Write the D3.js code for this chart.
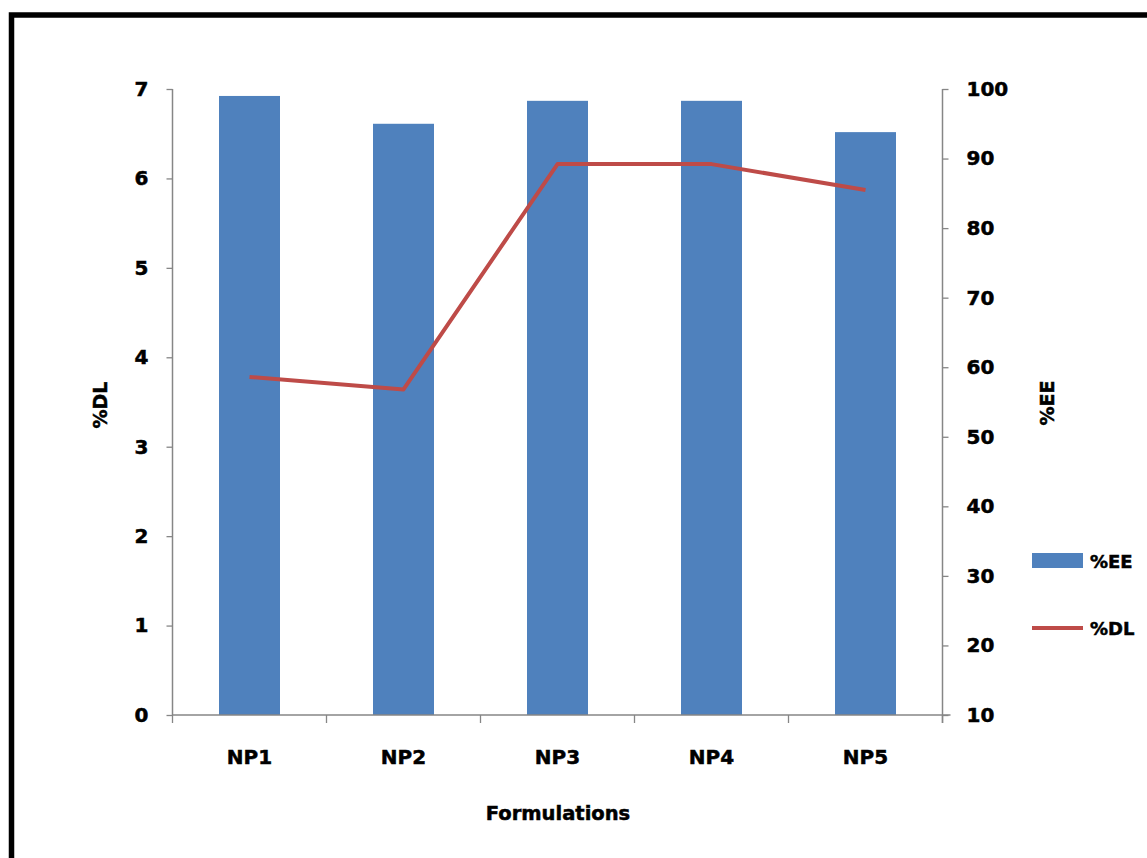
<!DOCTYPE html>
<html>
<head>
<meta charset="utf-8">
<script src="https://cdn.jsdelivr.net/npm/d3@7"></script>
<style>
  html, body { margin: 0; padding: 0; background: #fff; }
  svg { display: block; }
  text { font-family: "DejaVu Sans", Verdana, sans-serif; font-weight: bold; fill: #000; stroke: #000; stroke-width: 0.5px; }
</style>
</head>
<body>
<svg id="chart" width="1147" height="858"></svg>
<script>
// Formulations and measured values
const categories = ["NP1", "NP2", "NP3", "NP4", "NP5"];
const eeValues = [99.0, 95.0, 98.3, 98.3, 93.8];   // %EE, bars (right axis)
const dlValues = [3.78, 3.64, 6.16, 6.16, 5.87];   // %DL, line (left axis)
const leftTicks = [0, 1, 2, 3, 4, 5, 6, 7];
const rightTicks = [10, 20, 30, 40, 50, 60, 70, 80, 90, 100];
const seriesNames = ["%EE", "%DL"];

const svg = d3.select("#chart");

// Outer frame
svg.append("rect")
  .attr("x", 11.5).attr("y", 15)
  .attr("width", 1160).attr("height", 870)
  .attr("fill", "none").attr("stroke", "#000").attr("stroke-width", 5.5);

const plot = { left: 172.5, right: 942.5, top: 89, bottom: 715 };

const xTick = d3.scaleBand().domain(categories).range([plot.left, plot.right]);

const yLeft = d3.scaleLinear().domain([0, 7]).range([plot.bottom, plot.top]);
const yRight = d3.scaleLinear().domain([10, 100]).range([plot.bottom, plot.top]);

const axisColor = "#868686";
const barWidth = 61;

// Bars (%EE)
svg.append("g").selectAll("rect")
  .data(categories)
  .join("rect")
  .attr("x", d => xTick(d) + xTick.bandwidth() / 2 - barWidth / 2)
  .attr("width", barWidth)
  .attr("y", (d, i) => yRight(eeValues[i]))
  .attr("height", (d, i) => plot.bottom - yRight(eeValues[i]))
  .attr("fill", "#4F81BD");

// Left axis
const gL = svg.append("g").attr("transform", `translate(${plot.left},0)`)
  .call(d3.axisLeft(yLeft).tickValues(leftTicks).tickSize(6).tickPadding(18).tickFormat(d3.format("d")));
// Right axis
const gR = svg.append("g").attr("transform", `translate(${plot.right},0)`)
  .call(d3.axisRight(yRight).tickValues(rightTicks).tickSize(6).tickPadding(18).tickFormat(d3.format("d")));
// Category axis
const gX = svg.append("g").attr("transform", `translate(0,${plot.bottom})`)
  .call(d3.axisBottom(xTick).tickSize(0).tickPadding(35));

// Category boundary tick marks
const boundaries = categories.map(c => xTick(c)).concat([plot.right]);
gX.selectAll("line.bound")
  .data(boundaries)
  .join("line")
  .attr("class", "bound")
  .attr("x1", d => d).attr("x2", d => d)
  .attr("y1", 0).attr("y2", 8)
  .attr("stroke", axisColor).attr("stroke-width", 1.3);

[gL, gR, gX].forEach(g => {
  g.select(".domain").attr("stroke", axisColor).attr("stroke-width", 1.5);
  g.selectAll(".tick line").attr("stroke", axisColor).attr("stroke-width", 1.3);
  g.selectAll(".tick text")
    .attr("font-family", "DejaVu Sans, sans-serif")
    .attr("font-weight", "bold")
    .attr("font-size", 20)
    .attr("fill", "#000");
});
gL.select(".domain").attr("d", `M0,${plot.top}V${plot.bottom}`);
gR.select(".domain").attr("d", `M0,${plot.top}V${plot.bottom + 8}`);
gX.select(".domain").attr("d", `M${plot.left},0H${plot.right + 8}`);

// Line (%DL)
const line = d3.line()
  .x((d, i) => xTick(categories[i]) + xTick.bandwidth() / 2)
  .y(d => yLeft(d));
svg.append("path")
  .datum(dlValues)
  .attr("d", line)
  .attr("fill", "none")
  .attr("stroke", "#BE4B48")
  .attr("stroke-width", 4)
  .attr("stroke-linejoin", "round");

// Axis titles
svg.append("text")
  .attr("transform", "translate(100,405) rotate(-90)")
  .attr("text-anchor", "middle").attr("dominant-baseline", "central")
  .attr("font-size", 19)
  .text("%DL");
svg.append("text")
  .attr("transform", "translate(1047,403) rotate(-90)")
  .attr("text-anchor", "middle").attr("dominant-baseline", "central")
  .attr("font-size", 19)
  .text("%EE");
svg.append("text")
  .attr("x", 558).attr("y", 813)
  .attr("text-anchor", "middle").attr("dominant-baseline", "central")
  .attr("font-size", 19.5)
  .text("Formulations");

// Legend
const legend = svg.append("g");
legend.append("rect")
  .attr("x", 1032).attr("y", 553).attr("width", 51).attr("height", 15)
  .attr("fill", "#4F81BD");
legend.append("line")
  .attr("x1", 1032).attr("x2", 1083).attr("y1", 628).attr("y2", 628)
  .attr("stroke", "#BE4B48").attr("stroke-width", 4);
legend.selectAll("text")
  .data(seriesNames)
  .join("text")
  .attr("x", 1090)
  .attr("y", (d, i) => i === 0 ? 561 : 628)
  .attr("dominant-baseline", "central")
  .attr("font-size", 18)
  .text(d => d);
</script>
</body>
</html>
